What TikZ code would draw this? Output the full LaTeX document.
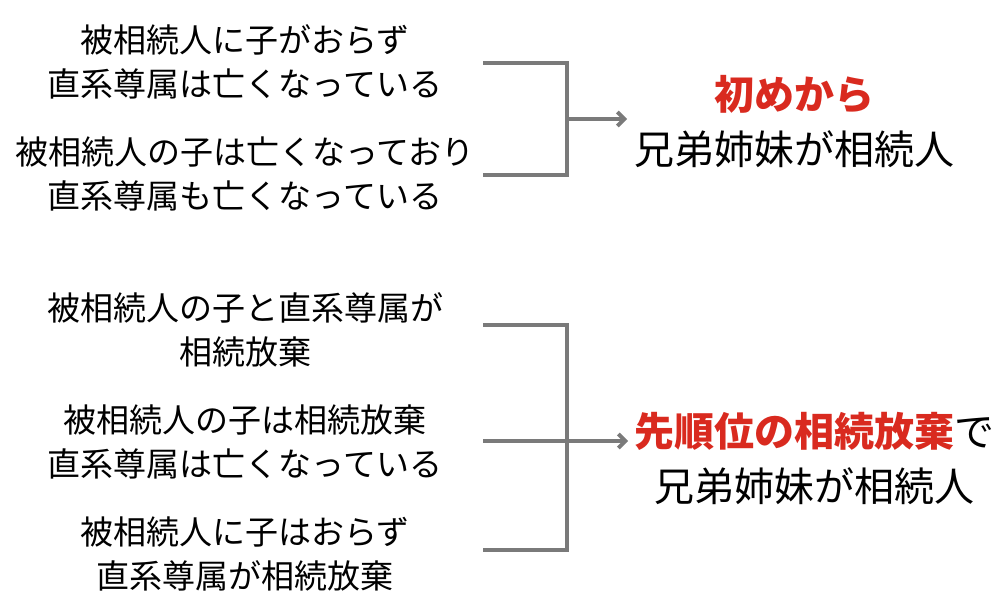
\documentclass[tikz,border=0pt]{standalone}
\usepackage{fontspec}
\newfontfamily\jp{Noto Sans CJK JP}
\usetikzlibrary{arrows.meta}
\definecolor{brk}{HTML}{7A7A7A}
\definecolor{accent}{HTML}{D92A1F}
\begin{document}
\begin{tikzpicture}[x=1pt,y=-1pt,
  cond/.style={align=center,inner sep=0pt,font=\jp\fontsize{33}{44}\selectfont},
  result/.style={align=center,inner sep=0pt,font=\jp\fontsize{40}{55}\selectfont},
  brkline/.style={draw=brk,line width=3.8pt},
  arr/.style={brkline,-{Straight Barb[length=7pt,width=14pt,line width=3.8pt]}}]
\useasboundingbox (0,0) rectangle (996,615);
\node[cond] (c1) at (245,62) {被相続人に子がおらず\\直系尊属は亡くなっている};
\node[cond] (c2) at (245,174) {被相続人の子は亡くなっており\\直系尊属も亡くなっている};
\node[cond] (c3) at (245,330) {被相続人の子と直系尊属が\\相続放棄};
\node[cond] (c4) at (245,442) {被相続人の子は相続放棄\\直系尊属は亡くなっている};
\node[cond] (c5) at (245,554) {被相続人に子はおらず\\直系尊属が相続放棄};
\node[result] (r1) at (794,122) {\textcolor{accent}{\bfseries 初めから}\\兄弟姉妹が相続人};
\node[result] (r2) at (814,458) {\textcolor{accent}{\bfseries 先順位の相続放棄}で\\兄弟姉妹が相続人};
% bracket 1
\coordinate (a1) at (483,63);
\coordinate (a2) at (567,63);
\coordinate (a3) at (567,175);
\coordinate (a4) at (483,175);
\coordinate (am) at (567,119);
\coordinate (ae) at (627,119);
\draw[brkline] (a1) -- (a2) -- (a3) -- (a4);
\draw[arr] (am) -- (ae);
% bracket 2
\coordinate (b1) at (483,325);
\coordinate (b2) at (567,325);
\coordinate (b3) at (567,550);
\coordinate (b4) at (483,550);
\coordinate (bl) at (483,441);
\coordinate (be) at (628,441);
\draw[brkline] (b1) -- (b2) -- (b3) -- (b4);
\draw[arr] (bl) -- (be);
\end{tikzpicture}
\end{document}
